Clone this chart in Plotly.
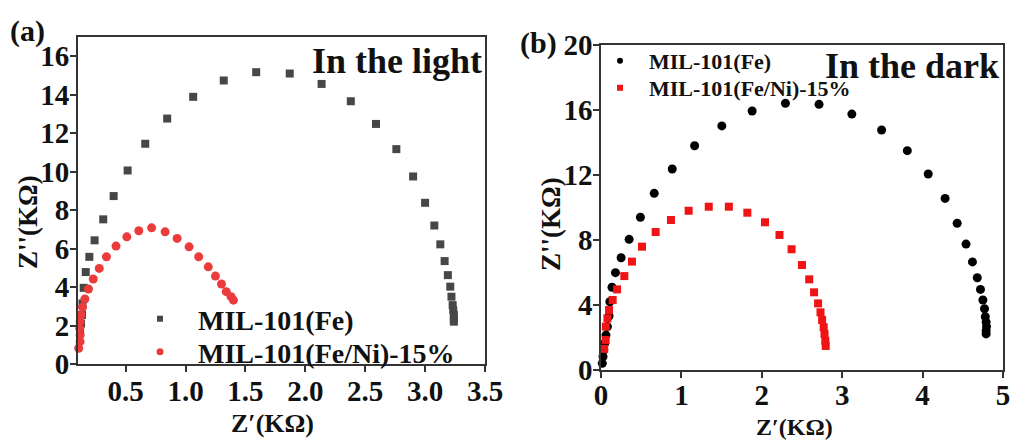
import plotly.graph_objects as go

# Panel (a): In the light
a_fe_x = [0.12, 0.128, 0.136, 0.14, 0.15, 0.167, 0.197, 0.241, 0.313, 0.40, 0.517, 0.664, 0.847, 1.064,
          1.319, 1.59, 1.87, 2.136, 2.38, 2.59, 2.76, 2.90, 3.00, 3.077, 3.127, 3.163, 3.19, 3.21, 3.22,
          3.23, 3.235, 3.24, 3.24, 3.24]
a_fe_y = [1.6, 2.1, 2.55, 3.15, 3.96, 4.78, 5.57, 6.43, 7.52, 8.73, 10.06, 11.45, 12.76, 13.89, 14.74,
          15.17, 15.1, 14.56, 13.66, 12.48, 11.17, 9.75, 8.38, 7.2, 6.22, 5.35, 4.62, 4.02, 3.50, 3.06,
          2.8, 2.55, 2.35, 2.2]
a_ni_x = [0.108, 0.12, 0.12, 0.117, 0.12, 0.128, 0.14, 0.16, 0.19, 0.23, 0.28, 0.34, 0.42, 0.51, 0.61,
          0.717, 0.83, 0.93, 1.03, 1.11, 1.19, 1.25, 1.30, 1.34, 1.38, 1.40]
a_ni_y = [0.82, 1.16, 1.51, 1.85, 2.20, 2.55, 2.95, 3.38, 3.90, 4.42, 4.97, 5.57, 6.13, 6.61, 6.93, 7.08,
          6.87, 6.53, 6.09, 5.57, 5.05, 4.57, 4.16, 3.76, 3.50, 3.32]

# Panel (b): In the dark
b_fe_x = [0.016, 0.025, 0.034, 0.046, 0.062, 0.08, 0.10, 0.11, 0.137, 0.18, 0.25, 0.35, 0.49, 0.662,
          0.886, 1.164, 1.503, 1.88, 2.294, 2.712, 3.12, 3.49, 3.81, 4.07, 4.28, 4.43, 4.54, 4.62, 4.68,
          4.72, 4.75, 4.77, 4.78, 4.79, 4.795, 4.79, 4.79]
b_fe_y = [0.41, 0.82, 1.23, 1.64, 2.15, 2.67, 3.32, 4.20, 5.09, 5.99, 6.91, 8.04, 9.40, 10.87, 12.37,
          13.80, 15.02, 15.94, 16.41, 16.35, 15.75, 14.77, 13.50, 12.06, 10.56, 9.03, 7.75, 6.65, 5.68,
          4.96, 4.31, 3.77, 3.28, 2.95, 2.67, 2.42, 2.22]
b_ni_x = [0.04, 0.058, 0.06, 0.08, 0.10, 0.145, 0.20, 0.29, 0.385, 0.51, 0.68, 0.87, 1.09, 1.34, 1.59,
          1.82, 2.04, 2.22, 2.37, 2.50, 2.59, 2.65, 2.70, 2.73, 2.75, 2.77, 2.78, 2.79, 2.795]
b_ni_y = [1.3, 1.85, 2.67, 3.18, 3.69, 4.31, 4.96, 5.78, 6.67, 7.59, 8.49, 9.23, 9.80, 10.05, 10.05,
          9.68, 9.09, 8.31, 7.43, 6.46, 5.58, 4.78, 4.10, 3.55, 3.08, 2.63, 2.22, 1.80, 1.48]

a_xticks = [0.5, 1.0, 1.5, 2.0, 2.5, 3.0, 3.5]
a_yticks = [0, 2, 4, 6, 8, 10, 12, 14, 16]
b_xticks = [0, 1, 2, 3, 4, 5]
b_yticks = [0, 4, 8, 12, 16, 20]

name_fe = "MIL-101(Fe)"
name_ni = "MIL-101(Fe/Ni)-15%"

SERIF = "Liberation Serif"
W, H = 1011, 441

A_GRAY = "#474747"
A_RED = "#ec3b3b"
B_BLACK = "#000000"
B_RED = "#f01414"

fig = go.Figure()
fig.add_trace(go.Scatter(x=a_fe_x, y=a_fe_y, mode="markers", name=name_fe, xaxis="x", yaxis="y",
                         marker=dict(symbol="square", size=8, color=A_GRAY), cliponaxis=False,
                         showlegend=False))
fig.add_trace(go.Scatter(x=a_ni_x, y=a_ni_y, mode="markers", name=name_ni, xaxis="x", yaxis="y",
                         marker=dict(symbol="circle", size=9, color=A_RED), cliponaxis=False,
                         showlegend=False))
fig.add_trace(go.Scatter(x=b_fe_x, y=b_fe_y, mode="markers", name=name_fe, xaxis="x2", yaxis="y2",
                         marker=dict(symbol="circle", size=9, color=B_BLACK), cliponaxis=False,
                         showlegend=False))
fig.add_trace(go.Scatter(x=b_ni_x, y=b_ni_y, mode="markers", name=name_ni, xaxis="x2", yaxis="y2",
                         marker=dict(symbol="square", size=8, color=B_RED), cliponaxis=False,
                         showlegend=False))

legend_entries = [
    (name_fe, "square", 6, A_GRAY, "x", "y", "legend"),
    (name_ni, "circle", 7, A_RED, "x", "y", "legend3"),
    (name_fe, "circle", 6, B_BLACK, "x2", "y2", "legend2"),
    (name_ni, "square", 6, B_RED, "x2", "y2", "legend4"),
]
for nm, sym, sz, col, xa, ya, lg in legend_entries:
    fig.add_trace(go.Scatter(x=[None], y=[None], mode="markers", name=nm, xaxis=xa, yaxis=ya,
                             marker=dict(symbol=sym, size=sz, color=col), legend=lg, showlegend=True))

axis_common = dict(showgrid=False, zeroline=False, showline=True, linecolor="#333333", linewidth=1.5,
                   mirror=True, ticks="outside", ticklen=6, tickwidth=1.5, tickcolor="#333333",
                   automargin=False,
                   tickfont=dict(family=SERIF, size=29, color="#111111", weight="bold"))


def px_x(p):
    return p / W


def px_y(p):
    return 1 - p / H


def legend_box(xp, yp, size, iw):
    return dict(x=px_x(xp), y=px_y(yp), xanchor="left", yanchor="middle", bgcolor="rgba(0,0,0,0)",
                itemwidth=iw, borderwidth=0,
                font=dict(family=SERIF, size=size, color="#111111", weight="bold"))


fig.update_layout(
    width=W, height=H, autosize=False,
    margin=dict(l=0, r=0, t=0, b=0, pad=0, autoexpand=False),
    paper_bgcolor="white", plot_bgcolor="white",
    xaxis=dict(domain=[px_x(77.7), px_x(485)], range=[0.1, 3.5], tickvals=a_xticks,
               ticktext=[f"{v:.1f}" for v in a_xticks], anchor="y", ticklabelstandoff=-6,
               **axis_common),
    yaxis=dict(domain=[px_y(364), px_y(37)], range=[0, 17], tickvals=a_yticks, anchor="x",
               ticklabelstandoff=-5, **axis_common),
    xaxis2=dict(domain=[px_x(601), px_x(1003)], range=[0, 5], tickvals=b_xticks, anchor="y2",
                ticklabelstandoff=-8, **axis_common),
    yaxis2=dict(domain=[px_y(370), px_y(45)], range=[0, 20], tickvals=b_yticks, anchor="x2",
                ticklabelstandoff=-5, **axis_common),
    legend=legend_box(122, 319, 28, 66),
    legend3=legend_box(122, 352, 28, 66),
    legend2=legend_box(591, 61, 22, 48),
    legend4=legend_box(591, 88, 22, 48),
)

ann_font = lambda s: dict(family=SERIF, size=s, color="#111111", weight="bold")
annotations = [
    dict(text="In the light", x=px_x(484), y=px_y(61), xanchor="right", yanchor="middle", font=ann_font(36)),
    dict(text="In the dark", x=px_x(1001), y=px_y(66), xanchor="right", yanchor="middle", font=ann_font(36)),
    dict(text="(a)", x=px_x(27), y=px_y(31), xanchor="center", yanchor="middle", font=ann_font(30)),
    dict(text="(b)", x=px_x(538), y=px_y(43), xanchor="center", yanchor="middle", font=ann_font(30)),
    dict(text="Z′(KΩ)", x=px_x(272), y=px_y(423), xanchor="center", yanchor="middle", font=ann_font(26)),
    dict(text="Z′(KΩ)", x=px_x(794), y=px_y(427), xanchor="center", yanchor="middle", font=ann_font(24)),
    dict(text="Z''(KΩ)", x=px_x(28), y=px_y(222), xanchor="center", yanchor="middle", textangle=-90,
         font=ann_font(27)),
    dict(text="Z''(KΩ)", x=px_x(551), y=px_y(224), xanchor="center", yanchor="middle", textangle=-90,
         font=ann_font(27)),
]
for a in annotations:
    a.update(xref="paper", yref="paper", showarrow=False)
fig.update_layout(annotations=annotations)

# remove the default page margin so the figure fills the window exactly; no modebar
fig.write_html("out.html", config={"displayModeBar": False},
               post_script="document.body.style.margin = '0px';")
